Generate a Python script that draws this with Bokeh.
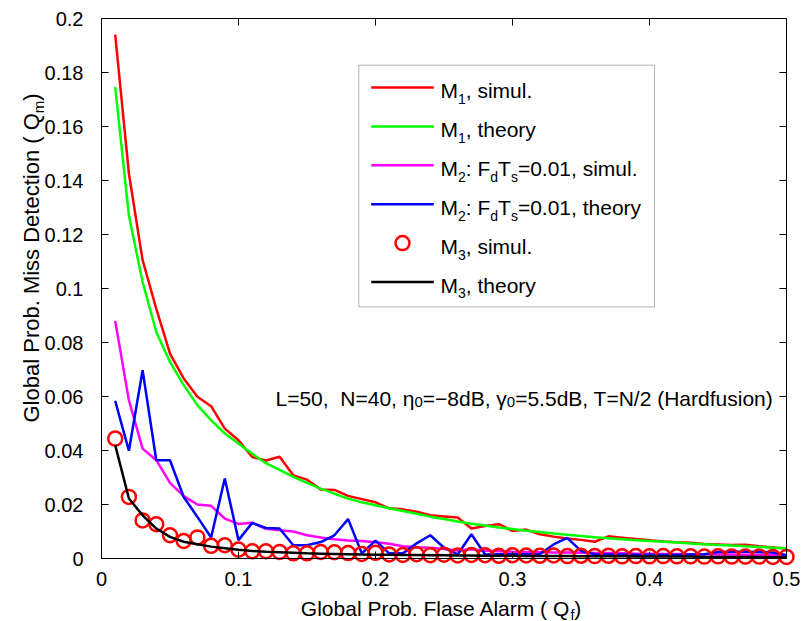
from bokeh.plotting import figure
from bokeh.models import Label, LinearAxis, FixedTicker, Range1d, BoxAnnotation
from bokeh.embed import file_html
from bokeh.resources import INLINE

# ---------------- data ----------------
qf = [0.01, 0.02, 0.03, 0.04, 0.05, 0.06, 0.07, 0.08, 0.09, 0.10,
      0.11, 0.12, 0.13, 0.14, 0.15, 0.16, 0.17, 0.18, 0.19, 0.20,
      0.21, 0.22, 0.23, 0.24, 0.25, 0.26, 0.27, 0.28, 0.29, 0.30,
      0.31, 0.32, 0.33, 0.34, 0.35, 0.36, 0.37, 0.38, 0.39, 0.40,
      0.41, 0.42, 0.43, 0.44, 0.45, 0.46, 0.47, 0.48, 0.49, 0.50]

m1_simul = [0.1940, 0.1426, 0.1105, 0.0925, 0.0759, 0.0667, 0.0599, 0.0564, 0.0481, 0.0438,
            0.0376, 0.0363, 0.0377, 0.0308, 0.0292, 0.0256, 0.0254, 0.0232, 0.0220, 0.0208,
            0.0186, 0.0182, 0.0173, 0.0160, 0.0156, 0.0152, 0.0111, 0.0120, 0.0127, 0.0102,
            0.0107, 0.0090, 0.0081, 0.0074, 0.0069, 0.0062, 0.0082, 0.0077, 0.0072, 0.0068,
            0.0063, 0.0060, 0.0058, 0.0054, 0.0052, 0.0050, 0.0051, 0.0045, 0.0041, 0.0037]

m1_theory = [0.1746, 0.1270, 0.1024, 0.0839, 0.0728, 0.0642, 0.0568, 0.0512, 0.0463, 0.0426,
             0.0388, 0.0353, 0.0328, 0.0302, 0.0280, 0.0259, 0.0240, 0.0222, 0.0208, 0.0197,
             0.0186, 0.0176, 0.0166, 0.0155, 0.0146, 0.0137, 0.0129, 0.0122, 0.0115, 0.0109,
             0.0103, 0.0098, 0.0093, 0.0088, 0.0083, 0.0079, 0.0075, 0.0071, 0.0068, 0.0065,
             0.0062, 0.0059, 0.0056, 0.0053, 0.0050, 0.0048, 0.0045, 0.0043, 0.0040, 0.0038]

m2_simul = [0.0880, 0.0586, 0.0407, 0.0364, 0.0280, 0.0231, 0.0200, 0.0195, 0.0148, 0.0128,
            0.0132, 0.0110, 0.0105, 0.0100, 0.0086, 0.0078, 0.0071, 0.0067, 0.0065, 0.0060,
            0.0055, 0.0045, 0.0042, 0.0040, 0.0035, 0.0030, 0.0034, 0.0029, 0.0027, 0.0025,
            0.0024, 0.0023, 0.0022, 0.0022, 0.0021, 0.0020, 0.0020, 0.0019, 0.0018, 0.0018,
            0.0017, 0.0017, 0.0016, 0.0016, 0.0015, 0.0015, 0.0014, 0.0014, 0.0013, 0.0013]

m2_theory = [0.0584, 0.0399, 0.0697, 0.0364, 0.0364, 0.0228, 0.0154, 0.0078, 0.0296, 0.0068,
             0.0132, 0.0113, 0.0111, 0.0049, 0.0049, 0.0061, 0.0086, 0.0146, 0.0019, 0.0066,
             0.0019, 0.0019, 0.0056, 0.0086, 0.0040, 0.0015, 0.0090, 0.0015, 0.0016, 0.0016,
             0.0016, 0.0017, 0.0052, 0.0076, 0.0028, 0.0016, 0.0015, 0.0015, 0.0014, 0.0014,
             0.0014, 0.0014, 0.0015, 0.0016, 0.0024, 0.0025, 0.0025, 0.0024, 0.0022, 0.0012]

m3_simul = [0.0444, 0.0228, 0.0141, 0.0127, 0.0086, 0.0065, 0.0078, 0.0047, 0.0049, 0.0033,
            0.0027, 0.0027, 0.0024, 0.0019, 0.0019, 0.0024, 0.0023, 0.0020, 0.0017, 0.0021,
            0.0015, 0.0013, 0.0016, 0.0012, 0.0014, 0.0011, 0.0013, 0.0012, 0.0010, 0.0012,
            0.0011, 0.0010, 0.0011, 0.0009, 0.0010, 0.0009, 0.0010, 0.0008, 0.0009, 0.0008,
            0.0009, 0.0008, 0.0008, 0.0007, 0.0008, 0.0007, 0.0007, 0.0007, 0.0006, 0.0006]

m3_theory = [0.0420, 0.0222, 0.0160, 0.0111, 0.0080, 0.0062, 0.0053, 0.0044, 0.0038, 0.0032,
             0.0028, 0.0025, 0.0023, 0.0021, 0.0019, 0.0018, 0.0017, 0.0016, 0.0015, 0.0014,
             0.0014, 0.0013, 0.0013, 0.0012, 0.0012, 0.0011, 0.0011, 0.0010, 0.0010, 0.0010,
             0.0009, 0.0009, 0.0009, 0.0009, 0.0008, 0.0008, 0.0008, 0.0008, 0.0007, 0.0007,
             0.0007, 0.0007, 0.0007, 0.0006, 0.0006, 0.0006, 0.0006, 0.0006, 0.0005, 0.0005]

x_ticks = [0.0, 0.1, 0.2, 0.3, 0.4, 0.5]
x_tick_labels = ["0", "0.1", "0.2", "0.3", "0.4", "0.5"]
y_ticks = [0.0, 0.02, 0.04, 0.06, 0.08, 0.1, 0.12, 0.14, 0.16, 0.18, 0.2]
y_tick_labels = ["0", "0.02", "0.04", "0.06", "0.08", "0.1", "0.12", "0.14", "0.16", "0.18", "0.2"]

# rich texts: (text, is_subscript)
x_label = [("Global Prob. Flase Alarm ( Q", 0), ("f", 1), (" )", 0)]
y_label = [("Global Prob. Miss Detection ( Q", 0), ("m", 1), (" )", 0)]
note = [("L=50,", 0), ("  ", 0), ("N=40, η", 0), ("0", 1), ("=−8dB, γ", 0), ("0", 1),
        ("=5.5dB, T=N/2 (Hardfusion)", 0)]
legend_texts = [
    [("M", 0), ("1", 1), (", simul.", 0)],
    [("M", 0), ("1", 1), (", theory", 0)],
    [("M", 0), ("2", 1), (": F", 0), ("d", 1), ("T", 0), ("s", 1), ("=0.01, simul.", 0)],
    [("M", 0), ("2", 1), (": F", 0), ("d", 1), ("T", 0), ("s", 1), ("=0.01, theory", 0)],
    [("M", 0), ("3", 1), (", simul.", 0)],
    [("M", 0), ("3", 1), (", theory", 0)],
]
legend_kinds = ["line", "line", "line", "line", "circle", "line"]
legend_colors = ["#ff0000", "#00ff00", "#ff00ff", "#0000ff", "#ff0000", "#000000"]

# ---------------- style / layout ----------------
FONT = "Liberation Sans"
MAIN = 21
SUB = 14
TICK = 20
LW = 2.5
W, H = 805, 621                      # canvas
BOX_L, BOX_R, BOX_T, BOX_B = 101, 786, 18, 558   # axes box in canvas px
FW, FH = BOX_R - BOX_L, BOX_B - BOX_T
X0, X1, Y0, Y1 = 0.0, 0.5, 0.0, 0.2
SX = (X1 - X0) / FW
SY = (Y1 - Y0) / FH

# Arial / Liberation Sans advance widths (per 1000 em)
AW = {' ': 278, 'G': 778, 'l': 222, 'o': 556, 'b': 556, 'a': 556, 'P': 667, 'r': 333, '.': 278,
      'F': 611, 's': 500, 'e': 556, 'A': 667, 'm': 833, '(': 333, ')': 333, 'Q': 778, 'f': 278,
      'M': 833, 'i': 222, 'D': 722, 't': 278, 'c': 500, 'n': 556, ',': 278, 'u': 556, 'h': 556,
      'y': 500, ':': 278, 'd': 556, 'T': 611, '=': 584, 'L': 556, 'N': 722, 'η': 556, 'γ': 500,
      '−': 584, 'B': 667, '/': 278, 'H': 722}
for ch in "0123456789":
    AW[ch] = 556


def text_w(t, size):
    return sum(AW.get(c, 556) for c in t) * size / 1000.0


def rich_width(segs, main, sub):
    return sum(text_w(t, sub if s else main) for t, s in segs)


def to_dx(fx):   # px from the axes-box left edge -> data x
    return X0 + fx * SX


def to_dy(fy):   # px above the axes-box bottom edge -> data y
    return Y0 + fy * SY


# The plotting frame covers the whole canvas; the axes are pinned at the data limits.
p = figure(width=W, height=H, title=None,
           x_range=Range1d(X0 - BOX_L * SX, X1 + (W - BOX_R) * SX),
           y_range=Range1d(Y0 - (H - BOX_B) * SY, Y1 + BOX_T * SY),
           output_backend="svg", toolbar_location=None, x_axis_type=None, y_axis_type=None,
           min_border=0, min_border_left=0, min_border_right=0, min_border_top=0,
           min_border_bottom=0)
p.background_fill_color = "white"
p.border_fill_color = "white"
p.outline_line_color = None
p.grid.visible = False


def make_axis(ticks, labels, show_labels, standoff, loc, bounds):
    ax = LinearAxis(fixed_location=loc, bounds=bounds)
    ax.ticker = FixedTicker(ticks=ticks)
    ax.major_tick_in = 7
    ax.major_tick_out = 0
    ax.minor_tick_in = 0
    ax.minor_tick_out = 0
    ax.axis_line_color = "black"
    ax.axis_line_width = 1
    ax.major_tick_line_color = "black"
    ax.major_label_text_font = FONT
    if show_labels:
        ax.major_label_overrides = {t: l for t, l in zip(ticks, labels)}
        ax.major_label_text_color = "black"
        ax.major_label_text_font_size = f"{TICK}px"
        ax.major_label_standoff = standoff
    else:
        ax.major_label_overrides = {t: "" for t in ticks}
        ax.major_label_text_color = None
    return ax


p.add_layout(make_axis(x_ticks, x_tick_labels, True, 13, Y0, (X0, X1)), "below")
p.add_layout(make_axis(y_ticks, y_tick_labels, True, 18, X0, (Y0, Y1)), "left")
p.add_layout(make_axis(x_ticks, x_tick_labels, False, 0, Y1, (X0, X1)), "above")
p.add_layout(make_axis(y_ticks, y_tick_labels, False, 0, X1, (Y0, Y1)), "right")

# ---------------- curves ----------------
p.line(qf, m1_simul, line_color=legend_colors[0], line_width=LW)
p.line(qf, m1_theory, line_color=legend_colors[1], line_width=LW)
p.line(qf, m2_simul, line_color=legend_colors[2], line_width=LW)
p.line(qf, m2_theory, line_color=legend_colors[3], line_width=LW)
p.scatter(qf, m3_simul, marker="circle", size=14, fill_color=None,
          line_color=legend_colors[4], line_width=LW)
p.line(qf, m3_theory, line_color=legend_colors[5], line_width=LW)


# ---------------- text helper (positions in px relative to axes box, y up) ----------------
def draw_rich(segs, x0, y0, main, sub, drop, vertical=False):
    adv = 0.0
    for t, s in segs:
        size = sub if s else main
        w = text_w(t, size)
        if t.strip():
            if vertical:
                fx, fy = x0 + (drop if s else 0), y0 + adv
            else:
                fx, fy = x0 + adv, y0 - (drop if s else 0)
            p.add_layout(Label(x=to_dx(fx), y=to_dy(fy), text=t,
                               text_font=FONT, text_font_size=f"{size}px", text_color="black",
                               text_align="left", text_baseline="alphabetic",
                               angle=90 if vertical else 0, angle_units="deg"))
        adv += w


# axis labels
xw = rich_width(x_label, MAIN, SUB)
draw_rich(x_label, FW / 2 - xw / 2, -50.0, MAIN, SUB, 6)
draw_rich(y_label, -70.5, 136.0, 22, 15, 7, vertical=True)

# annotation
draw_rich(note, 174, 160.3, MAIN, 15, 4)

# ---------------- legend (drawn by hand for subscripts) ----------------
LEG_L, LEG_R, LEG_B, LEG_T = 257.3, 553.0, 251.6, 493.3
p.add_layout(BoxAnnotation(left=to_dx(LEG_L), right=to_dx(LEG_R),
                           bottom=to_dy(LEG_B), top=to_dy(LEG_T),
                           fill_color="white", fill_alpha=1.0,
                           line_color="black", line_width=1))

ROW0, PITCH = 471.0, 38.9
SW0, SW1 = 269.7, 332.3
for k, (segs, kind, col) in enumerate(zip(legend_texts, legend_kinds, legend_colors)):
    cy = ROW0 - k * PITCH
    if kind == "line":
        r = p.segment(x0=[to_dx(SW0)], y0=[to_dy(cy)], x1=[to_dx(SW1)], y1=[to_dy(cy)],
                      line_color=col, line_width=LW)
    else:
        r = p.scatter(x=[to_dx((SW0 + SW1) / 2)], y=[to_dy(cy)], marker="circle", size=14,
                      fill_color=None, line_color=col, line_width=LW)
    r.level = "overlay"
    draw_rich(segs, 339, cy - 3.4, MAIN, SUB, 8)

open("out.html", "w").write(file_html(p, INLINE))
